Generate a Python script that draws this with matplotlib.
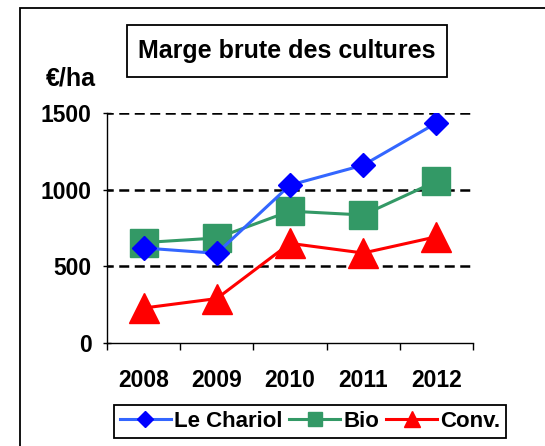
import matplotlib
matplotlib.use("Agg")
import matplotlib.pyplot as plt
from matplotlib.lines import Line2D
from matplotlib.patches import Rectangle

plt.rcParams['font.family'] = ['Liberation Sans', 'DejaVu Sans']
plt.rcParams['font.weight'] = 'bold'

# data
years = ['2008', '2009', '2010', '2011', '2012']
chariol = [620, 585, 1030, 1160, 1435]
bio = [655, 685, 860, 835, 1055]
conv = [228, 290, 650, 587, 693]
yticks = [0, 500, 1000, 1500]

fig = plt.figure(figsize=(5.45, 4.46), dpi=100)
ax = fig.add_axes([0.1963, 0.2309, 0.6716, 0.5157])

x = list(range(len(years)))

for v in yticks[1:]:
    ax.axhline(v, color='black', lw=1.8, ls=(1.5, (4, 2.2)), zorder=1)

ax.plot(x, chariol, color='#3366FF', lw=2.2, marker='D', ms=12,
        mfc='#0000FF', mec='#0000FF', zorder=4)
ax.plot(x, bio, color='#339966', lw=2.2, marker='s', ms=20,
        mfc='#339966', mec='#339966', zorder=3)
ax.plot(x, conv, color='#FF0000', lw=2.2, marker='^', ms=21,
        mfc='#FF0000', mec='#FF0000', zorder=2)

ax.set_xlim(-0.5, len(years) - 0.5)
ax.set_ylim(0, 1500)
ax.set_yticks(yticks)
ax.set_yticklabels([str(v) for v in yticks], fontsize=16.5, fontweight='bold')
ax.set_xticks([i - 0.5 for i in range(len(years) + 1)])
ax.set_xticklabels([])
ax.set_xticks(x, minor=True)
ax.set_xticklabels(years, minor=True, fontsize=16.5, fontweight='bold')
ax.tick_params(axis='x', which='major', direction='out', length=5, width=1)
ax.tick_params(axis='x', which='minor', length=0, pad=19)
ax.tick_params(axis='y', direction='inout', length=6, width=1, pad=8)

ax.spines['top'].set_visible(False)
ax.spines['right'].set_visible(False)
ax.spines['left'].set_linewidth(1)
ax.spines['bottom'].set_linewidth(1)

# outer frame
fig.patches.append(Rectangle((20 / 545, -0.1), 1.2, 0.1 + 1 - 8 / 446,
                             transform=fig.transFigure, fill=False,
                             edgecolor='black', lw=1.3))

# title box
fig.patches.append(Rectangle((127 / 545, 1 - 77 / 446), 320 / 545, 52 / 446,
                             transform=fig.transFigure, fill=False,
                             edgecolor='black', lw=1.3))
fig.text(0.5266, 0.8857, 'Marge brute des cultures', ha='center', va='center',
         fontsize=18, fontweight='bold')
fig.text(0.130, 0.823, '€/ha', ha='center', va='center', fontsize=18,
         fontweight='bold')

handles = [
    Line2D([], [], color='#3366FF', lw=2.2, marker='D', ms=8,
           mfc='#0000FF', mec='#0000FF'),
    Line2D([], [], color='#339966', lw=2.2, marker='s', ms=9.5,
           mfc='#339966', mec='#339966'),
    Line2D([], [], color='#FF0000', lw=2.2, marker='^', ms=12,
           mfc='#FF0000', mec='#FF0000'),
]
leg = fig.legend(handles, ['Le Chariol', 'Bio', 'Conv.'], loc='center',
                 bbox_to_anchor=(0.569, 0.055), ncol=3, fancybox=False,
                 edgecolor='black', framealpha=1, handlelength=2.3,
                 handletextpad=0.15, columnspacing=0.3, borderpad=0.25,
                 prop={'size': 16, 'weight': 'bold'})
leg.get_frame().set_linewidth(1.3)

fig.savefig('out.png', dpi=100)
